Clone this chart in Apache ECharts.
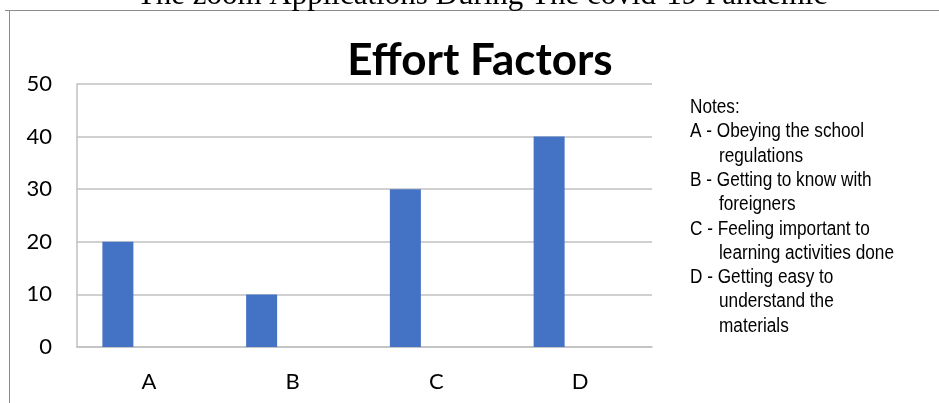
<!DOCTYPE html>
<html>
<head>
<meta charset="utf-8">
<title>Effort Factors</title>
<script src="https://cdn.jsdelivr.net/npm/echarts@6/dist/echarts.min.js"></script>
<style>
  html, body { margin: 0; padding: 0; background: #ffffff; }
  #chart { width: 939px; height: 403px; }
</style>
</head>
<body>
<div id="chart"></div>
<script>
// Categories and values
const categories = ['A', 'B', 'C', 'D'];
const effortValues = [20, 10, 30, 40];
// The sheet had two further series columns left blank
const blankSeriesB = ['-', '-', '-', '-'];
const blankSeriesC = ['-', '-', '-', '-'];

const yMin = 0;
const yMax = 50;
const yInterval = 10;

const pageHeading = 'The zoom Applications During The covid-19 Pandemic';
const chartTitle = 'Effort Factors';

// Legend notes: letter line followed by wrapped continuation lines
const noteHeader = 'Notes:';
const notes = [
  ['A - Obeying the school', 'regulations'],
  ['B - Getting to know with', 'foreigners'],
  ['C - Feeling important to', 'learning activities done'],
  ['D - Getting easy to', 'understand the', 'materials']
];

const chart = echarts.init(document.getElementById('chart'), null, { renderer: 'canvas' });

const labelFont = 'Lato, "Open Sans", "Liberation Sans", sans-serif';
const noteFont = '"Liberation Sans", Arial, sans-serif';
const gridColor = '#c0c0c0';
const frameColor = '#8c8c8c';

// Notes text elements (narrowed horizontally for a condensed face)
const noteElements = [];
const noteX = 690;
const noteIndentX = 719;
const noteFirstMiddle = 107.5;
const noteLineStep = 24.3;
const noteScaleX = 0.86;
let row = 0;
function noteText(x, y, text) {
  return {
    type: 'text', x: x, y: y, scaleX: noteScaleX, scaleY: 1,
    style: { text: text, font: '20px ' + noteFont, fill: '#000', verticalAlign: 'middle' }
  };
}
noteElements.push(noteText(noteX, noteFirstMiddle + noteLineStep * row++, noteHeader));
notes.forEach(function (lines) {
  lines.forEach(function (line, i) {
    noteElements.push(noteText(i === 0 ? noteX : noteIndentX, noteFirstMiddle + noteLineStep * row++, line));
  });
});

const option = {
  backgroundColor: '#ffffff',
  animation: false,
  grid: { left: 77, right: 287, top: 84, bottom: 56, containLabel: false },
  xAxis: {
    type: 'category',
    data: categories,
    axisLine: { show: true, lineStyle: { color: gridColor, width: 1.5 } },
    axisTick: { show: false },
    axisLabel: { color: '#000', fontFamily: labelFont, fontSize: 22, margin: 24 },
    splitLine: { show: false }
  },
  yAxis: {
    type: 'value',
    min: yMin,
    max: yMax,
    interval: yInterval,
    axisLine: { show: true, lineStyle: { color: gridColor, width: 1.5 } },
    axisTick: { show: false },
    axisLabel: { color: '#000', fontFamily: labelFont, fontSize: 22, margin: 25 },
    splitLine: { show: true, lineStyle: { color: gridColor, width: 1.5 } }
  },
  series: [
    {
      name: 'Effort', type: 'bar', data: effortValues, barWidth: 31, barGap: '0%',
      itemStyle: { color: '#4472c4' }
    },
    { name: 'Series 2', type: 'bar', data: blankSeriesB, barWidth: 31, barGap: '0%' },
    { name: 'Series 3', type: 'bar', data: blankSeriesC, barWidth: 31, barGap: '0%' }
  ],
  graphic: [
    // frame lines of the chart box
    { type: 'line', shape: { x1: 5, y1: 10.5, x2: 939, y2: 10.5 }, style: { stroke: frameColor, lineWidth: 1 } },
    { type: 'line', shape: { x1: 9.5, y1: 10, x2: 9.5, y2: 403 }, style: { stroke: frameColor, lineWidth: 1 } },
    {
      type: 'text', x: 482, y: -4,
      style: { text: pageHeading, font: '31px "Liberation Serif", "Times New Roman", serif', fill: '#000', align: 'center', verticalAlign: 'middle' }
    },
    {
      type: 'text', x: 480, y: 61,
      style: { text: chartTitle, font: 'bold 44px ' + labelFont, fill: '#000', align: 'center', verticalAlign: 'middle' }
    }
  ].concat(noteElements)
};

chart.setOption(option);
</script>
</body>
</html>
